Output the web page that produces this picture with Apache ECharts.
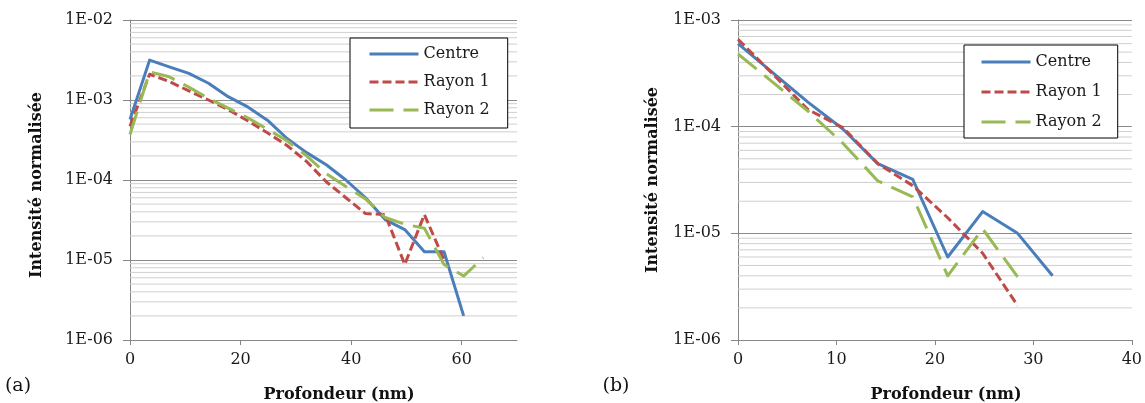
<!DOCTYPE html>
<html><head><meta charset="utf-8">
<script src="https://cdn.jsdelivr.net/npm/echarts@6/dist/echarts.min.js"></script>
<style>html,body{margin:0;padding:0;background:#fff}#c{width:1145px;height:403px}</style>
</head><body><div id="c"></div>
<script>
// ---- data ----
const seriesNames = ['Centre', 'Rayon 1', 'Rayon 2'];
const depthA = [0, 3.55, 7.1, 10.65, 14.2, 17.75, 21.3, 24.85, 28.4, 31.95, 35.5, 39.05, 42.6, 46.15, 49.7, 53.25, 56.8, 60.35, 63.9];
const centreA = [5.7e-4, 3.15e-3, 2.6e-3, 2.15e-3, 1.62e-3, 1.1e-3, 8.2e-4, 5.6e-4, 3.3e-4, 2.2e-4, 1.55e-4, 1.0e-4, 6.0e-5, 3.2e-5, 2.4e-5, 1.27e-5, 1.27e-5, 2.0e-6];
const rayon1A = [4.7e-4, 2.1e-3, 1.7e-3, 1.3e-3, 1.0e-3, 7.6e-4, 5.5e-4, 3.9e-4, 2.7e-4, 1.7e-4, 9.5e-5, 6.0e-5, 3.8e-5, 3.7e-5, 8.8e-6, 3.7e-5, 1.0e-5];
const rayon2A = [3.7e-4, 2.25e-3, 1.95e-3, 1.45e-3, 1.05e-3, 7.9e-4, 6.0e-4, 4.3e-4, 3.1e-4, 2.0e-4, 1.2e-4, 8.3e-5, 5.8e-5, 3.4e-5, 2.8e-5, 2.5e-5, 8.8e-6, 6.3e-6, 1.07e-5];
const depthB = [0, 3.55, 7.1, 10.65, 14.2, 17.75, 21.3, 24.85, 28.4, 31.95];
const centreB = [6.0e-4, 3.2e-4, 1.7e-4, 9.5e-5, 4.5e-5, 3.2e-5, 6.0e-6, 1.6e-5, 1.0e-5, 4.0e-6];
const rayon1B = [6.6e-4, 3.1e-4, 1.45e-4, 9.8e-5, 4.5e-5, 2.8e-5, 1.4e-5, 6.5e-6, 2.1e-6];
const rayon2B = [4.8e-4, 2.6e-4, 1.4e-4, 7.0e-5, 3.1e-5, 2.2e-5, 4.0e-6, 1.1e-5, 3.9e-6];
const xRangeA = [0, 70, 20];
const xRangeB = [0, 40, 10];
const yRangeA = [1e-6, 1e-2];
const yRangeB = [1e-6, 1e-3];
const minorMult = [2, 3, 4, 5, 6, 7, 8, 9];
const xTitle = 'Profondeur (nm)';
const yTitle = 'Intensité normalisée';
const panelLabels = ['(a)', '(b)'];

// ---- helpers ----
const FONT = '"DejaVu Serif", "Liberation Serif", serif';
const colors = ['#4A7EBB', '#BE4B48', '#98B954'];
const dashes = ['solid', [9, 4], [24, 10]];
const pairs = (xs, ys) => ys.map((y, i) => [xs[i], y]);
const fmtE = v => { const e = Math.round(Math.log10(v)); return '1E' + (e < 0 ? '-' : '+') + String(Math.abs(e)).padStart(2, '0'); };
function minorValues(range) {
  const out = [];
  const e0 = Math.round(Math.log10(range[0])), e1 = Math.round(Math.log10(range[1]));
  for (let e = e0; e < e1; e++) minorMult.forEach(m => out.push(m * Math.pow(10, e)));
  return out;
}
const axisGray = '#868686';
function xAxis(idx, r) {
  return {
    type: 'value', gridIndex: idx, min: r[0], max: r[1], interval: r[2],
    axisLine: { show: true, onZero: false, lineStyle: { color: axisGray, width: 1 } },
    axisTick: { show: true, length: 5, lineStyle: { color: axisGray } },
    axisLabel: { fontSize: 16, fontFamily: FONT, color: '#1a1a1a', margin: 12, showMaxLabel: idx === 1 },
    splitLine: { show: false }
  };
}
function yAxis(idx, r) {
  return {
    type: 'log', logBase: 10, gridIndex: idx, min: r[0], max: r[1],
    axisLine: { show: true, lineStyle: { color: axisGray, width: 1 } },
    axisTick: { show: true, length: 7, lineStyle: { color: axisGray } },
    axisLabel: { fontSize: 16, fontFamily: FONT, color: '#1a1a1a', margin: 17, formatter: fmtE },
    splitLine: { show: true, lineStyle: { color: '#8a8a8a', width: 1 } }
  };
}
function gridLines(idx, xr, yr) {
  return minorValues(yr).map((v, i) => ({
    name: '_grid' + idx + '_' + i, type: 'line', xAxisIndex: idx, yAxisIndex: idx, z: 1, silent: true,
    data: [[xr[0], v], [xr[1], v]], symbol: 'none', showSymbol: false,
    lineStyle: { color: '#cfcfcf', width: 1, type: 'solid' }, emphasis: { disabled: true }
  }));
}
function dataSeries(idx, k, xs, ys) {
  return {
    name: seriesNames[k], type: 'line', xAxisIndex: idx, yAxisIndex: idx, z: 3,
    data: pairs(xs, ys), symbol: 'none', showSymbol: false, smooth: false,
    lineStyle: { color: colors[k], width: 3, type: dashes[k], cap: 'butt', join: 'round' },
    itemStyle: { color: colors[k] }
  };
}
function legend(left, top, gap, padding) {
  return {
    data: seriesNames, orient: 'vertical', left: left, top: top, itemGap: gap,
    itemWidth: 49, itemHeight: 14, padding: padding,
    borderColor: '#000', borderWidth: 1, backgroundColor: '#fff',
    lineStyle: { width: 3 }, selectedMode: false,
    itemStyle: { opacity: 0, color: 'rgba(0,0,0,0)', borderWidth: 0 },
    textStyle: { fontSize: 16, fontFamily: FONT, color: '#1a1a1a' }
  };
}
function txt(x, y, text, font, rot) {
  return { type: 'text', x: x, y: y, rotation: rot || 0,
    style: { text: text, font: font, fill: '#111', textAlign: 'center', textVerticalAlign: 'middle' } };
}

const chart = echarts.init(document.getElementById('c'), null, { renderer: 'canvas' });
chart.setOption({
  animation: false,
  backgroundColor: '#fff',
  grid: [
    { left: 130, right: 628, top: 20, bottom: 63, containLabel: false },
    { left: 738, right: 11, top: 20, bottom: 63, containLabel: false }
  ],
  xAxis: [xAxis(0, xRangeA), xAxis(1, xRangeB)],
  yAxis: [yAxis(0, yRangeA), yAxis(1, yRangeB)],
  legend: [legend(350, 38, 12, [8, 18, 10, 18]), legend(964, 45, 14, [9, 16, 8, 16])],
  series: [].concat(
    gridLines(0, xRangeA, yRangeA), gridLines(1, xRangeB, yRangeB),
    [dataSeries(0, 0, depthA, centreA), dataSeries(0, 1, depthA, rayon1A), dataSeries(0, 2, depthA, rayon2A),
     dataSeries(1, 0, depthB, centreB), dataSeries(1, 1, depthB, rayon1B), dataSeries(1, 2, depthB, rayon2B)]
  ),
  graphic: [
    txt(37, 185, yTitle, 'bold 16px ' + FONT, Math.PI / 2),
    txt(653, 180, yTitle, 'bold 16px ' + FONT, Math.PI / 2),
    txt(339, 395, xTitle, 'bold 16px ' + FONT),
    txt(946, 395, xTitle, 'bold 16px ' + FONT),
    txt(18, 386, panelLabels[0], '19px ' + FONT),
    txt(616, 386, panelLabels[1], '19px ' + FONT)
  ]
});
</script></body></html>
